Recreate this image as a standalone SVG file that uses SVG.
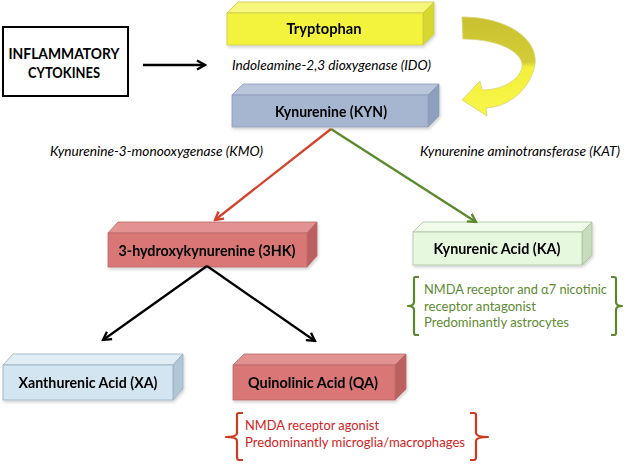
<svg xmlns="http://www.w3.org/2000/svg" width="624" height="464" viewBox="0 0 624 464">
<defs>
<style>
.lbl{font-family:Lato,"Open Sans","Liberation Sans",sans-serif;font-weight:bold;font-size:15px;fill:#000;text-anchor:middle}
.enz{font-family:Lato,"Open Sans","Liberation Sans",sans-serif;font-style:italic;font-size:14px;fill:#000}
.note{font-family:Lato,"Open Sans","Liberation Sans",sans-serif;font-size:13.5px}
.green{fill:#5e8b30}
.red{fill:#d02424}
.edge{fill:none;stroke-width:2.3}
.brk{fill:none;stroke-width:2.2;stroke-linejoin:round}
</style>
<marker id="ahK" viewBox="0 0 12 12" refX="10" refY="6" markerWidth="12" markerHeight="12" orient="auto" markerUnits="userSpaceOnUse"><path d="M2,1.5 L10,6 L2,10.5" fill="none" stroke="#000" stroke-width="2.3"/></marker>
<marker id="ahR" viewBox="0 0 12 12" refX="10" refY="6" markerWidth="12" markerHeight="12" orient="auto" markerUnits="userSpaceOnUse"><path d="M2,1.5 L10,6 L2,10.5" fill="none" stroke="#d2432a" stroke-width="2.3"/></marker>
<marker id="ahG" viewBox="0 0 12 12" refX="10" refY="6" markerWidth="12" markerHeight="12" orient="auto" markerUnits="userSpaceOnUse"><path d="M2,1.5 L10,6 L2,10.5" fill="none" stroke="#5a8a2c" stroke-width="2.3"/></marker>
<linearGradient id="yarrow" x1="0" y1="18" x2="0" y2="116" gradientUnits="userSpaceOnUse">
<stop offset="0" stop-color="#c9c230"/><stop offset="0.45" stop-color="#d4cc36"/><stop offset="0.5" stop-color="#f3ef3c"/><stop offset="1" stop-color="#f8f64a"/>
</linearGradient>
<filter id="sh" x="-10%" y="-20%" width="120%" height="150%"><feDropShadow dx="1" dy="2" stdDeviation="1.5" flood-color="#000" flood-opacity="0.18"/></filter>
</defs>
<rect width="624" height="464" fill="#fff"/>

<g id="inflammatory">
<rect x="3" y="27" width="125" height="69" fill="#fff" stroke="#000" stroke-width="2"/>
<text class="lbl" x="64" y="59" textLength="111" lengthAdjust="spacingAndGlyphs">INFLAMMATORY</text>
<text class="lbl" x="64" y="78" textLength="72" lengthAdjust="spacingAndGlyphs">CYTOKINES</text>
</g>

<g id="tryptophan" filter="url(#sh)">
<polygon points="227,13 238,2 434,2 423,13" fill="#f6f67c" stroke="#c9c94a" stroke-width="0.8"/>
<polygon points="423,13 434,2 434,34 423,45" fill="#d7d72e" stroke="#c9c94a" stroke-width="0.8"/>
<rect x="227" y="13" width="196" height="32" fill="#f3f33c" stroke="#c9c94a" stroke-width="0.8"/>
<text class="lbl" x="324" y="34" textLength="75" lengthAdjust="spacingAndGlyphs">Tryptophan</text>
</g>

<g id="kynurenine" filter="url(#sh)">
<polygon points="232,95 243,84 439,84 428,95" fill="#b9c5db" stroke="#8e9cb8" stroke-width="0.8"/>
<polygon points="428,95 439,84 439,116 428,127" fill="#8e9fbd" stroke="#8e9cb8" stroke-width="0.8"/>
<rect x="232" y="95" width="196" height="32" fill="#a6b5d0" stroke="#8e9cb8" stroke-width="0.8"/>
<text class="lbl" x="331" y="117" textLength="112" lengthAdjust="spacingAndGlyphs">Kynurenine (KYN)</text>
</g>

<g id="hk3" filter="url(#sh)">
<polygon points="108,233 118,222 317,222 307,233" fill="#e39292" stroke="#b86a6a" stroke-width="0.8"/>
<polygon points="307,233 317,222 317,256 307,267" fill="#bb5f5f" stroke="#b86a6a" stroke-width="0.8"/>
<rect x="108" y="233" width="199" height="34" fill="#d97676" stroke="#b86a6a" stroke-width="0.8"/>
<text class="lbl" x="207" y="256" textLength="177" lengthAdjust="spacingAndGlyphs">3-hydroxykynurenine (3HK)</text>
</g>

<g id="ka" filter="url(#sh)">
<polygon points="413,232 423,222 592,222 582,232" fill="#f0fbea" stroke="#a9c0a0" stroke-width="0.8"/>
<polygon points="582,232 592,222 592,255 582,265" fill="#c7dcbb" stroke="#a9c0a0" stroke-width="0.8"/>
<rect x="413" y="232" width="169" height="33" fill="#e6f8de" stroke="#a9c0a0" stroke-width="0.8"/>
<text class="lbl" x="497" y="254" textLength="127" lengthAdjust="spacingAndGlyphs">Kynurenic Acid (KA)</text>
</g>

<g id="xa" filter="url(#sh)">
<polygon points="3,365 13,354 183,354 173,365" fill="#e1edf5" stroke="#98adbf" stroke-width="0.8"/>
<polygon points="173,365 183,354 183,389 173,400" fill="#b2c7d5" stroke="#98adbf" stroke-width="0.8"/>
<rect x="3" y="365" width="170" height="35" fill="#d3e5f0" stroke="#98adbf" stroke-width="0.8"/>
<text class="lbl" x="88" y="388" textLength="139" lengthAdjust="spacingAndGlyphs">Xanthurenic Acid (XA)</text>
</g>

<g id="qa" filter="url(#sh)">
<polygon points="233,365 244,354 406,354 395,365" fill="#e39292" stroke="#b86a6a" stroke-width="0.8"/>
<polygon points="395,365 406,354 406,389 395,400" fill="#bb5f5f" stroke="#b86a6a" stroke-width="0.8"/>
<rect x="233" y="365" width="162" height="35" fill="#d97676" stroke="#b86a6a" stroke-width="0.8"/>
<text class="lbl" x="313" y="388" textLength="130" lengthAdjust="spacingAndGlyphs">Quinolinic Acid (QA)</text>
</g>

<g id="yellow-arrow">
<path d="M462,17 C510,17 542,42 534,69 C527,93 506,107 486,108 L487,116 L462,100 L480,81 L482,90 C500,90 518,82 522,68 C525,53 500,39 463,39 Z" fill="url(#yarrow)" stroke="#d8d070" stroke-width="0.8"/>
</g>

<g id="connectors">
<line class="edge" x1="143" y1="65" x2="205" y2="65" stroke="#000" marker-end="url(#ahK)"/>
<line class="edge" x1="331" y1="129" x2="215" y2="220" stroke="#d2432a" marker-end="url(#ahR)"/>
<line class="edge" x1="331" y1="129" x2="476" y2="222" stroke="#5a8a2c" marker-end="url(#ahG)"/>
<line class="edge" x1="207" y1="266" x2="103" y2="340" stroke="#000" marker-end="url(#ahK)"/>
<line class="edge" x1="207" y1="266" x2="315" y2="341" stroke="#000" marker-end="url(#ahK)"/>
</g>

<g id="enzymes">
<text class="enz" x="232" y="70" textLength="199" lengthAdjust="spacingAndGlyphs">Indoleamine-2,3 dioxygenase (IDO)</text>
<text class="enz" x="50" y="156" textLength="213" lengthAdjust="spacingAndGlyphs">Kynurenine-3-monooxygenase (KMO)</text>
<text class="enz" x="420" y="156" textLength="200" lengthAdjust="spacingAndGlyphs">Kynurenine aminotransferase (KAT)</text>
</g>

<g id="ka-note">
<path class="brk" stroke="#5a8a2c" d="M419,277 L415,277 Q414,277 414,279 L414,302 Q414,306 408,306 Q414,306 414,310 L414,333 Q414,335 416,335 L419,335"/>
<path class="brk" stroke="#5a8a2c" d="M611,277 L614,277 Q616,277 616,279 L616,302 Q616,306 622,306 Q616,306 616,310 L616,333 Q616,335 614,335 L611,335"/>
<text class="note green" x="424" y="294" textLength="183" lengthAdjust="spacingAndGlyphs">NMDA receptor and α7 nicotinic</text>
<text class="note green" x="424" y="311" textLength="112" lengthAdjust="spacingAndGlyphs">receptor antagonist</text>
<text class="note green" x="424" y="327" textLength="145" lengthAdjust="spacingAndGlyphs">Predominantly astrocytes</text>
</g>

<g id="qa-note">
<path class="brk" stroke="#cc3a1f" d="M243,413 L239,413 Q237,413 237,415 L237,433 Q237,437 226,437 Q237,437 237,441 L237,457 Q237,460 239,460 L243,460"/>
<path class="brk" stroke="#cc3a1f" d="M470,413 L474,413 Q476,413 476,415 L476,433 Q476,437 488,437 Q476,437 476,441 L476,457 Q476,460 474,460 L470,460"/>
<text class="note red" x="245" y="430" textLength="134" lengthAdjust="spacingAndGlyphs">NMDA receptor agonist</text>
<text class="note red" x="245" y="447" textLength="220" lengthAdjust="spacingAndGlyphs">Predominantly microglia/macrophages</text>
</g>
</svg>
